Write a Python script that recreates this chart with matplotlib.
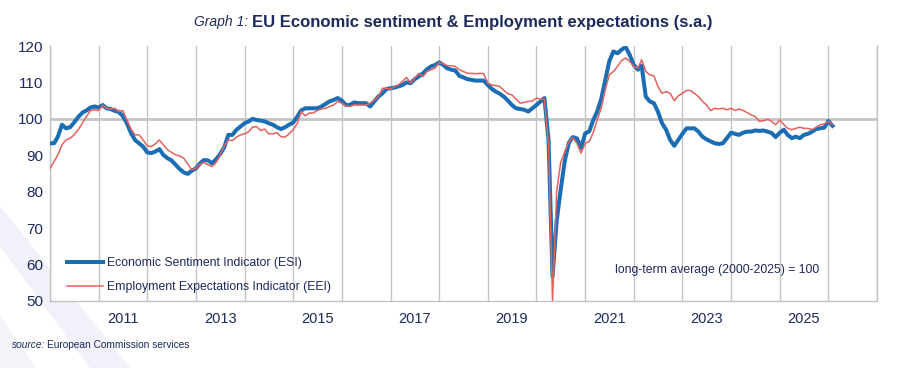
import matplotlib
matplotlib.use("Agg")
import matplotlib.pyplot as plt
import matplotlib.dates as mdates
from matplotlib.patches import Polygon
from matplotlib.lines import Line2D
import pandas as pd

# monthly values, Jan 2010 .. Feb 2026
esi = [
    93.3, 93.3, 95.1, 98.4, 97.4, 97.7, 99.0, 100.5, 101.7, 102.3, 103.1, 103.4,      # 2010
    103.1, 103.8, 102.9, 102.7, 102.2, 101.9, 100.8, 98.8, 96.1, 94.2, 93.3, 92.4,    # 2011
    90.8, 90.6, 91.0, 91.7, 90.1, 89.2, 88.6, 87.4, 86.2, 85.3, 84.9, 85.8,           # 2012
    86.4, 87.8, 88.7, 88.6, 87.8, 88.9, 90.3, 92.2, 95.6, 95.6, 97.0, 97.9,           # 2013
    98.8, 99.3, 100.0, 99.7, 99.5, 99.3, 98.8, 98.4, 97.7, 97.2, 97.7, 98.4,          # 2014
    99.0, 100.6, 102.3, 102.9, 102.9, 102.9, 102.9, 103.4, 104.1, 104.8, 105.2, 105.7,  # 2015
    105.0, 103.8, 103.8, 104.5, 104.3, 104.3, 104.3, 103.4, 104.8, 106.1, 107.0, 108.2,  # 2016
    108.4, 108.6, 108.9, 109.3, 110.0, 109.8, 110.9, 111.6, 112.5, 113.6, 114.4, 114.8,  # 2017
    115.5, 114.8, 113.9, 113.5, 113.3, 111.8, 111.4, 110.9, 110.7, 110.5, 110.5, 110.5,  # 2018
    109.3, 108.2, 107.5, 106.9, 106.1, 105.0, 103.8, 102.9, 102.7, 102.5, 102.0, 102.9,  # 2019
    103.8, 104.8, 105.7, 94.2, 56.7, 72.0, 80.5, 88.5, 93.5, 95.0, 94.6, 92.0,         # 2020
    96.0, 96.6, 99.5, 102.0, 105.4, 110.7, 115.8, 118.5, 118.0, 119.0, 119.7, 117.6,   # 2021
    114.8, 113.5, 114.6, 106.1, 104.8, 104.3, 102.0, 98.8, 97.0, 94.2, 92.6, 94.2,     # 2022
    95.9, 97.4, 97.4, 97.4, 96.5, 95.1, 94.4, 93.8, 93.3, 93.1, 93.3, 94.7,            # 2023
    96.2, 95.9, 95.6, 96.2, 96.5, 96.5, 96.8, 96.7, 96.8, 96.5, 96.1, 95.0,            # 2024
    96.2, 97.0, 95.6, 94.7, 95.1, 94.7, 95.6, 95.9, 96.5, 97.2, 97.4, 97.6,            # 2025
    99.4, 98.1,                                                                        # 2026
]

eei = [
    86.4, 88.3, 90.1, 92.9, 94.2, 94.7, 95.6, 97.0, 98.8, 100.6, 102.3, 102.5,
    102.3, 103.8, 102.9, 102.7, 102.9, 102.0, 102.3, 99.7, 97.2, 95.6, 95.6, 94.2,
    92.6, 92.4, 93.1, 94.2, 92.9, 91.5, 90.8, 90.1, 89.8, 89.2, 87.6, 86.0,
    86.4, 87.6, 88.0, 87.4, 86.9, 88.0, 90.0, 92.6, 94.2, 94.0, 95.0, 95.6,
    95.9, 96.5, 97.7, 97.9, 96.8, 97.2, 95.9, 95.9, 96.2, 95.1, 95.0, 95.9,
    97.0, 98.8, 102.0, 100.8, 101.6, 101.6, 102.3, 102.7, 102.9, 103.4, 103.8, 104.8,
    104.3, 103.6, 103.4, 103.8, 103.8, 103.8, 103.8, 104.3, 105.2, 106.1, 108.4, 108.4,
    108.2, 108.9, 109.3, 110.3, 111.4, 109.8, 111.2, 112.5, 111.6, 113.0, 113.5, 113.9,
    115.5, 115.1, 114.6, 114.6, 114.4, 113.5, 113.0, 112.5, 112.5, 112.4, 112.5, 112.4,
    109.8, 109.3, 109.1, 108.9, 107.8, 106.9, 106.6, 105.4, 104.3, 104.5, 104.8, 104.9,
    105.7, 105.4, 105.4, 93.0, 50.0, 80.0, 88.0, 91.0, 93.8, 94.8, 93.2, 90.6,
    93.3, 93.8, 96.1, 99.7, 102.9, 108.0, 112.1, 113.0, 114.4, 116.0, 116.7, 115.8,
    114.4, 113.9, 116.2, 113.0, 112.1, 111.8, 108.9, 107.0, 107.5, 107.0, 105.0, 106.3,
    107.0, 107.8, 107.8, 107.0, 106.1, 104.8, 103.8, 102.3, 102.9, 102.7, 102.9, 102.5,
    102.9, 102.3, 102.7, 102.3, 101.7, 101.1, 100.6, 99.3, 99.5, 99.9, 99.3, 98.4,
    99.7, 98.4, 97.4, 97.0, 97.4, 97.7, 97.4, 97.4, 97.0, 97.7, 98.4, 98.6,
    99.3, 98.4,
]

start_month = "2010-01-01"
year_labels = ["2011", "2013", "2015", "2017", "2019", "2021", "2023", "2025"]
y_ticks = [50, 60, 70, 80, 90, 100, 110, 120]

NAVY = "#1c2a5c"
BLUE = "#1b6db4"
RED = "#e4615c"
GRID = "#c4c4c4"

plt.rcParams['font.family'] = ['Liberation Sans', 'DejaVu Sans']

dates = pd.date_range(start_month, periods=len(esi), freq="MS")

fig = plt.figure(figsize=(9, 3.68), dpi=100)
fig.patch.set_facecolor("white")

# faint diagonal stripes in the lower-left corner, behind everything
fig.patches.append(Polygon([(0, 0.44), (0, 0.33), (0.10, 0.0), (0.145, 0.0)],
                           closed=True, transform=fig.transFigure,
                           facecolor="#f1f2f9", edgecolor="none", zorder=-2))
fig.patches.append(Polygon([(0, 0.14), (0, 0.0), (0.04, 0.0)],
                           closed=True, transform=fig.transFigure,
                           facecolor="#f3f4fa", edgecolor="none", zorder=-2))

ax = fig.add_axes([50 / 900, 1 - 301 / 368, 827 / 900, 255 / 368])
ax.set_facecolor("white")

ax.plot(dates, esi, color=BLUE, linewidth=2.9, solid_joinstyle="round", zorder=3)
ax.plot(dates, eei, color=RED, linewidth=1.1, zorder=4)

ax.set_xlim(pd.Timestamp("2010-01-01"), pd.Timestamp("2027-01-01"))
ax.set_ylim(50, 120)

# year boundaries as grid lines, labels at mid-year
ax.xaxis.set_major_locator(mdates.YearLocator(1))
ax.xaxis.set_major_formatter(plt.NullFormatter())
ax.set_xticks([pd.Timestamp(f"{y}-07-01") for y in year_labels], minor=True)
ax.set_xticklabels(year_labels, minor=True)
ax.tick_params(axis="x", which="both", length=0, pad=8, labelsize=10.5, labelcolor=NAVY)
ax.grid(axis="x", which="major", color=GRID, linewidth=1.0)

ax.set_yticks(y_ticks)
ax.tick_params(axis="y", length=0, pad=5, labelsize=11, labelcolor=NAVY)
ax.axhline(100, color=GRID, linewidth=2.0, zorder=2)

for side in ["left", "right", "bottom"]:
    ax.spines[side].set_color(GRID)
    ax.spines[side].set_linewidth(1.0)
ax.spines["top"].set_visible(False)

handles = [Line2D([], [], color=BLUE, linewidth=2.9),
           Line2D([], [], color=RED, linewidth=1.1)]
leg = ax.legend(handles, ["Economic Sentiment Indicator (ESI)",
                          "Employment Expectations Indicator (EEI)"],
                loc="lower left", bbox_to_anchor=(0.02, 0.03), frameon=False,
                fontsize=8.8, handlelength=3.0, handletextpad=0.35,
                labelspacing=1.0, borderpad=0, borderaxespad=0)
for t in leg.get_texts():
    t.set_color(NAVY)

ax.text(0.807, 0.122, "long-term average (2000-2025) = 100", transform=ax.transAxes,
        ha="center", va="center", fontsize=8.8, color=NAVY)

fig.text(248 / 900, 1 - 22 / 368, "Graph 1:", style="italic", fontsize=10,
         color=NAVY, ha="right", va="center")
fig.text(252 / 900, 1 - 22 / 368,
         "EU Economic sentiment & Employment expectations (s.a.)",
         fontweight="bold", fontsize=12, color=NAVY, ha="left", va="center")

fig.text(12 / 900, 1 - 345 / 368, "source:", style="italic", fontsize=7.3,
         color=NAVY, ha="left", va="center")
fig.text(47 / 900, 1 - 345 / 368, "European Commission services", fontsize=7.3,
         color=NAVY, ha="left", va="center")

fig.savefig("out.png", dpi=100)
